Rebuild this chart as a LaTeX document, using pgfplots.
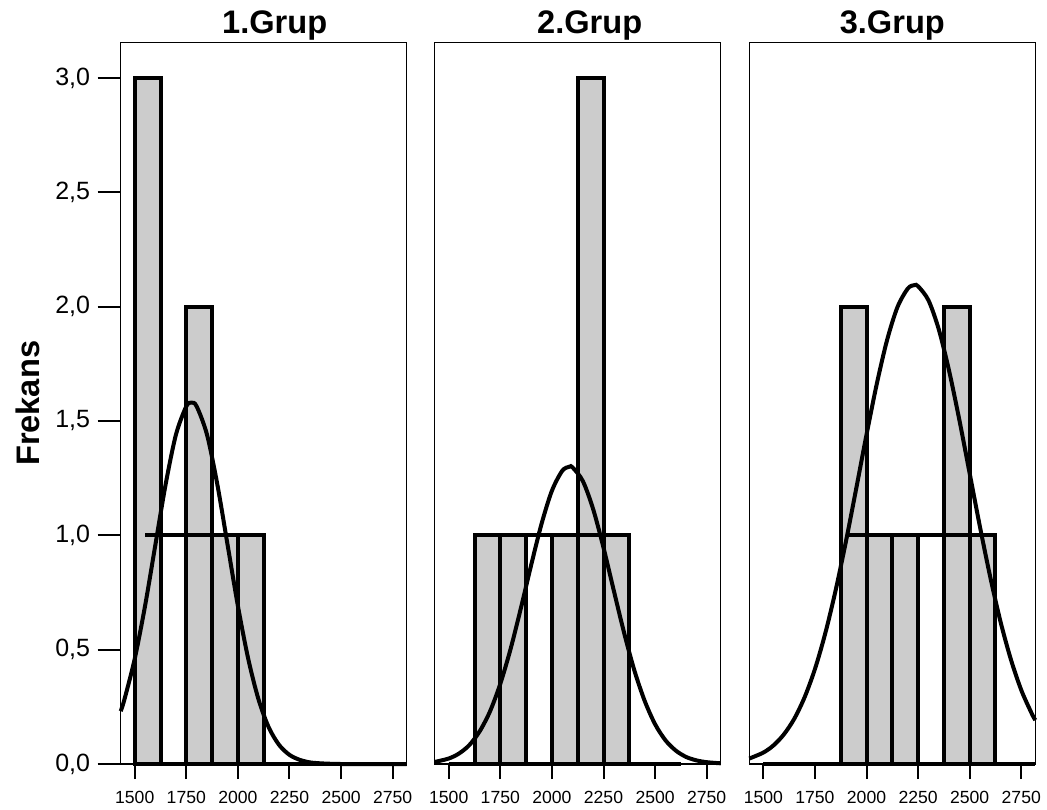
\documentclass[border=0pt]{standalone}
\usepackage{fontspec}
\setmainfont{Liberation Sans}
\usepackage{pgfplots}
\pgfplotsset{compat=1.18}
\definecolor{barfill}{RGB}{204,204,204}

\pgfplotsset{
  grp/.style={
    scale only axis, width=143pt, height=360.65pt,
    xmin=1432, xmax=2818, ymin=0, ymax=3.154,
    clip=false,
    axis line style={line width=0.6pt},
    tick align=outside, tick pos=left,
    xtick={1500,1750,...,2750},
    xtick style={/pgfplots/major tick length=7.5pt, line width=1pt, black},
    ytick style={/pgfplots/major tick length=11.5pt, line width=1pt, black},
    xticklabel style={font=\fontsize{8.8}{9}\selectfont, yshift=-6pt},
    yticklabel style={font=\fontsize{12.5}{13}\selectfont, xshift=-7.5pt},
    /pgf/number format/assume math mode=true,
    /pgf/number format/1000 sep={},
    title style={font=\bfseries\fontsize{16.3}{18}\selectfont, at={(0.5,1)}, anchor=base, yshift=-1.2pt},
  },
  bars/.style={ybar, bar width=125, draw=black, line width=2pt, fill=barfill},
  curve/.style={black, line width=2pt, smooth, mark=none},
  base/.style={black, line width=2pt, mark=none},
}

\begin{document}
\begin{tikzpicture}
\useasboundingbox (-60.35pt,-22.5pt) rectangle (463.15pt,382pt);

% 1. Grup
\begin{axis}[grp, at={(0pt,0pt)}, anchor=south west,
  title={1.Grup}, title style={xshift=5.5pt},
  ytick={0,0.5,...,3},
  yticklabel style={/pgf/number format/.cd, fixed, fixed zerofill, precision=1, use comma},
  ylabel={Frekans},
  ylabel style={font=\bfseries\fontsize{16.3}{18}\selectfont, at={(axis description cs:-0.324,0.5)}, anchor=center},
]
\addplot[bars] coordinates {(1562.5,3) (1812.5,2) (1937.5,1) (2062.5,1)};
\addplot[base] coordinates {(1550,1) (2125,1)};
\addplot[base] coordinates {(1500,0) (2818,0)};
\addplot[curve] coordinates {
(1432,0.231) (1450,0.282) (1500,0.460) (1550,0.691) (1600,0.958) (1650,1.224)
(1700,1.441) (1750,1.564) (1775,1.580) (1800,1.564) (1850,1.441) (1900,1.224)
(1950,0.958) (2000,0.691) (2050,0.460) (2100,0.282) (2150,0.159) (2200,0.083)
(2250,0.040) (2300,0.018) (2350,0.007) (2400,0.003) (2450,0.001) (2500,0.000)
(2600,0.000) (2818,0.000)};
\end{axis}

% 2. Grup
\begin{axis}[grp, at={(157pt,0pt)}, anchor=south west,
  title={2.Grup}, title style={xshift=6pt},
  ytick=\empty,
]
\addplot[bars] coordinates {(1687.5,1) (1812.5,1) (2062.5,1) (2187.5,3) (2312.5,1)};
\addplot[base] coordinates {(1625,1) (2375,1)};
\addplot[base] coordinates {(1500,0) (2625,0)};
\addplot[curve] coordinates {
(1432,0.009) (1500,0.024) (1550,0.046) (1600,0.083) (1650,0.143) (1700,0.230)
(1750,0.351) (1800,0.504) (1850,0.683) (1900,0.872) (1950,1.051) (2000,1.195)
(2050,1.282) (2085,1.300) (2100,1.297) (2150,1.237) (2200,1.114) (2250,0.946)
(2300,0.758) (2350,0.573) (2400,0.408) (2450,0.275) (2500,0.174) (2550,0.104)
(2600,0.059) (2650,0.031) (2700,0.016) (2750,0.008) (2818,0.003)};
\end{axis}

% 3. Grup
\begin{axis}[grp, at={(314.3pt,0pt)}, anchor=south west,
  title={3.Grup},
  ytick=\empty,
]
\addplot[bars] coordinates {(1937.5,2) (2062.5,1) (2187.5,1) (2437.5,2) (2562.5,1)};
\addplot[base] coordinates {(1910,1) (2625,1)};
\addplot[base] coordinates {(1500,0) (2818,0)};
\addplot[curve] coordinates {
(1432,0.024) (1500,0.050) (1550,0.082) (1600,0.130) (1650,0.198) (1700,0.292)
(1750,0.415) (1800,0.571) (1850,0.758) (1900,0.972) (1950,1.204) (2000,1.440)
(2050,1.663) (2100,1.855) (2150,1.998) (2200,2.079) (2232,2.094) (2250,2.089)
(2300,2.028) (2350,1.901) (2400,1.720) (2450,1.504) (2500,1.270) (2550,1.036)
(2600,0.816) (2650,0.620) (2700,0.456) (2750,0.323) (2800,0.222) (2818,0.192)};
\end{axis}
\end{tikzpicture}
\end{document}
